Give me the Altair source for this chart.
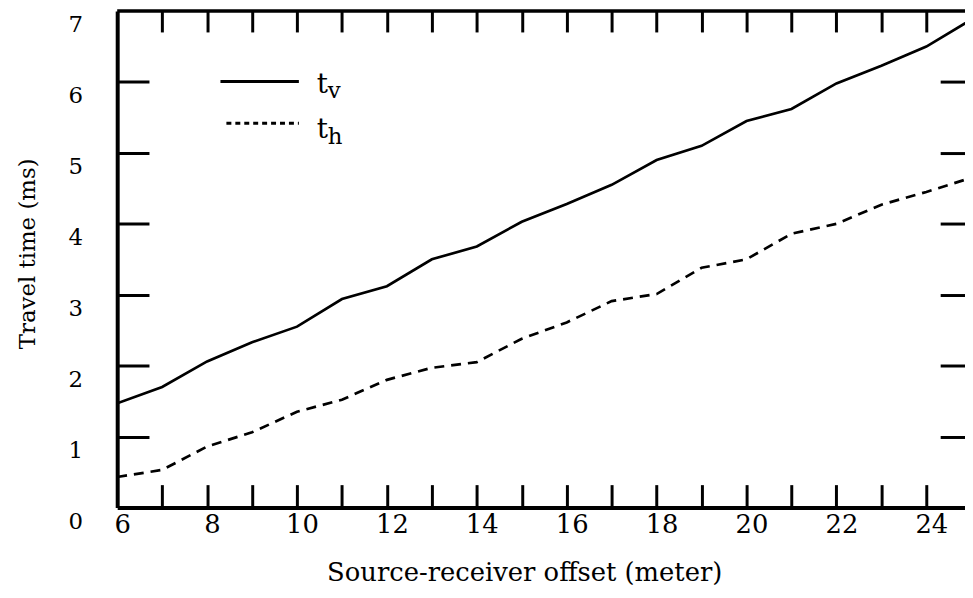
import altair as alt
import pandas as pd

# ---- data ----
offset_m = [6, 7, 8, 9, 10, 11, 12, 13, 14, 15, 16, 17, 18, 19, 20, 21, 22, 23, 24, 25]
t_v = [1.47, 1.70, 2.06, 2.33, 2.55, 2.94, 3.12, 3.50, 3.68, 4.03, 4.28, 4.55,
       4.90, 5.10, 5.45, 5.62, 5.98, 6.23, 6.50, 6.88]
t_h = [0.43, 0.53, 0.86, 1.06, 1.35, 1.52, 1.80, 1.97, 2.05, 2.38, 2.61, 2.91,
       3.01, 3.38, 3.50, 3.86, 4.00, 4.27, 4.45, 4.65]

x_label_values = [6, 8, 10, 12, 14, 16, 18, 20, 22, 24]
x_tick_values = list(range(7, 25))
y_label_values = [0, 1, 2, 3, 4, 5, 6, 7]
y_tick_values = [1, 2, 3, 4, 5, 6]

x_title = "Source-receiver offset (meter)"
y_title = "Travel time (ms)"

df = pd.DataFrame({"offset": offset_m, "tv": t_v, "th": t_h})

# ---- layout ----
W, H = 854, 500
XMIN, XMAX = 6, 24.86
FONT = "DejaVu Serif"

xscale = alt.Scale(domain=[XMIN, XMAX], nice=False, zero=False)
yscale = alt.Scale(domain=[0, 7], nice=False, zero=False)

base = alt.Chart(df)

line_v = base.mark_line(color="black", strokeWidth=2.7, clip=True).encode(
    x=alt.X("offset:Q", scale=xscale, axis=alt.Axis(
        orient="bottom", values=x_label_values, ticks=False, tickSize=0,
        domain=False, grid=False, labelFont=FONT, labelFontSize=26,
        labelColor="black", labelPadding=4, labelOffset=5, labelFlush=False,
        labelOverlap=False, title=x_title, titleFont=FONT, titleFontSize=26,
        titleFontWeight="normal", titleColor="black", titleX=410, titleY=74,
        titleAlign="center", titleBaseline="alphabetic")),
    y=alt.Y("tv:Q", scale=yscale, axis=alt.Axis(
        orient="left", values=y_label_values, ticks=False, tickSize=0,
        domain=False, grid=False, labelFont=FONT, labelFontSize=23,
        labelColor="black", labelPadding=35, labelOffset=14, labelFlush=False,
        labelOverlap=False, title=y_title, titleFont=FONT, titleFontSize=23,
        titleFontWeight="normal", titleColor="black", titleX=-83, titleY=244,
        titleAlign="center", titleBaseline="alphabetic", titleAngle=270)),
)

line_h = base.mark_line(color="black", strokeWidth=2.7, strokeDash=[10, 7], clip=True).encode(
    x=alt.X("offset:Q", scale=xscale, axis=alt.Axis(
        orient="top", offset=-H, values=x_tick_values, tickSize=23, tickWidth=3,
        tickColor="black", labels=False, domain=True, domainWidth=4,
        domainColor="black", grid=False, title=None)),
    y=alt.Y("th:Q", scale=yscale, axis=alt.Axis(
        orient="right", offset=-W, values=y_tick_values, tickSize=32, tickWidth=3,
        tickColor="black", labels=False, domain=True, domainWidth=4,
        domainColor="black", grid=False, title=None)),
)

top_border = alt.Chart(alt.Data(values=[{}])).mark_rule(color="black", strokeWidth=3.5).encode(
    x=alt.XDatum(XMIN, type="quantitative", scale=xscale, axis=alt.Axis(
        orient="bottom", offset=-H, values=x_tick_values, tickSize=21, tickWidth=3,
        tickColor="black", labels=False, domain=False, grid=False, title=None)),
    x2=alt.X2Datum(XMAX),
    y=alt.YDatum(7, type="quantitative", scale=yscale, axis=alt.Axis(
        orient="left", offset=-W, values=y_tick_values, tickSize=25, tickWidth=3,
        tickColor="black", labels=False, domain=False, grid=False, title=None)),
)

# ---- legend (decoration, pixel placed) ----
leg = alt.Chart(alt.Data(values=[{}]))
leg_v_line = leg.mark_rule(color="black", strokeWidth=3).encode(
    x=alt.value(104), x2=alt.value(183), y=alt.value(71))
leg_h_line = leg.mark_rule(color="black", strokeWidth=3, strokeDash=[5, 4]).encode(
    x=alt.value(110), x2=alt.value(183), y=alt.value(113))
leg_t1 = leg.mark_text(text="t", font=FONT, fontSize=28, align="left",
                       baseline="alphabetic", color="black").encode(
    x=alt.value(201), y=alt.value(83))
leg_v = leg.mark_text(text="v", font=FONT, fontSize=23, align="left",
                      baseline="alphabetic", color="black").encode(
    x=alt.value(212), y=alt.value(88))
leg_t2 = leg.mark_text(text="t", font=FONT, fontSize=28, align="left",
                       baseline="alphabetic", color="black").encode(
    x=alt.value(201), y=alt.value(128))
leg_h = leg.mark_text(text="h", font=FONT, fontSize=23, align="left",
                      baseline="alphabetic", color="black").encode(
    x=alt.value(212), y=alt.value(134))

chart = alt.layer(
    line_v, line_h, top_border, leg_v_line, leg_h_line, leg_t1, leg_v, leg_t2, leg_h
).resolve_axis(
    x="independent", y="independent"
).properties(
    width=W, height=H,
    padding={"left": 110, "top": 1, "right": 0, "bottom": 80},
    autosize=alt.AutoSizeParams(type="none"),
    background="white",
).configure_view(stroke=None)

chart.save("out.html", embed_options={"renderer": "svg", "actions": False})
